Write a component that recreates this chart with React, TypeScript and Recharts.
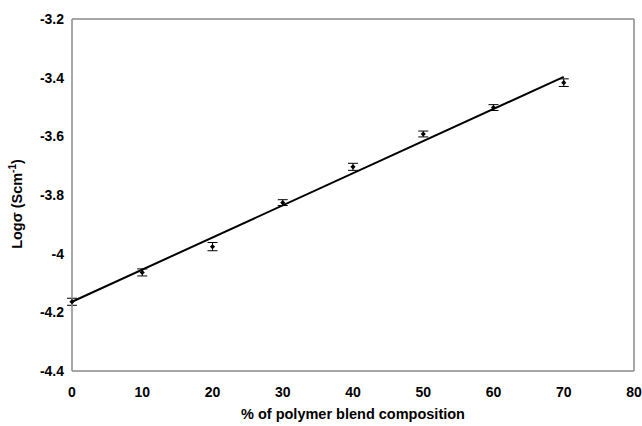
import { ComposedChart, Scatter, XAxis, YAxis, ErrorBar, ReferenceLine } from 'recharts';

const blendPercent = [0, 10, 20, 30, 40, 50, 60, 70];
const logSigma = [-4.164, -4.064, -3.976, -3.826, -3.704, -3.592, -3.502, -3.417];
const sigmaError = [0.012, 0.012, 0.014, 0.01, 0.012, 0.01, 0.01, 0.013];

const fitX = [0, 70];
const fitY = [-4.164, -3.397];

const xTicks = [0, 10, 20, 30, 40, 50, 60, 70, 80];
const yTicks = [-4.4, -4.2, -4, -3.8, -3.6, -3.4, -3.2];

const points = blendPercent.map((x, i) => ({ x, y: logSigma[i], err: sigmaError[i] }));
const fitLine = fitX.map((x, i) => ({ x, y: fitY[i] }));

const font = '"Liberation Sans", Arial, sans-serif';
const tickStyle = { fontFamily: font, fontSize: 14, fontWeight: 700, fill: '#000' };
const labelStyle = { fontFamily: font, fontSize: 14.5, fontWeight: 700, fill: '#000' };
const boxColor = '#8a8a8a';

const Diamond = (props: any) => {
    const { cx, cy } = props;
    const r = 2.6;
    return <path d={`M${cx},${cy - r}L${cx + r},${cy}L${cx},${cy + r}L${cx - r},${cy}Z`} fill="#000" />;
};

const YLabel = () => {
    const cx = 17;
    const cy = 204;
    return (
        <text
            x={cx}
            y={cy}
            transform={`rotate(-90 ${cx} ${cy})`}
            textAnchor="middle"
            dominantBaseline="central"
            style={labelStyle}
        >
            Logσ (Scm<tspan dy={-5} fontSize={10}>-1</tspan><tspan dy={5}>)</tspan>
        </text>
    );
};

export default function App() {
    return (
        <div style={{ position: 'absolute', left: 0, top: 0, background: '#fff' }}>
            <ComposedChart width={642} height={426} margin={{ top: 19, right: 8, bottom: 0, left: 0 }}>
                <XAxis
                    dataKey="x"
                    type="number"
                    domain={[0, 80]}
                    ticks={xTicks}
                    tickLine={false}
                    tickMargin={10}
                    height={55}
                    axisLine={{ stroke: boxColor, strokeWidth: 1.5 }}
                    tick={tickStyle}
                    label={{
                        value: '% of polymer blend composition',
                        position: 'insideBottom',
                        offset: 7,
                        style: labelStyle,
                    }}
                />
                <YAxis
                    dataKey="y"
                    type="number"
                    domain={[-4.4, -3.2]}
                    ticks={yTicks}
                    width={72}
                    tickLine={false}
                    axisLine={{ stroke: boxColor, strokeWidth: 1.5 }}
                    tick={tickStyle}
                    label={{ content: YLabel }}
                />
                <ReferenceLine y={-3.2} stroke={boxColor} strokeWidth={1.5} />
                <ReferenceLine x={80} stroke={boxColor} strokeWidth={1.5} />
                <Scatter
                    data={fitLine}
                    line={{ stroke: '#000', strokeWidth: 2 }}
                    shape={() => null}
                    isAnimationActive={false}
                />
                <Scatter data={points} shape={Diamond} isAnimationActive={false}>
                    <ErrorBar dataKey="err" direction="y" width={5} stroke="#000" strokeWidth={1} />
                </Scatter>
            </ComposedChart>
        </div>
    );
}
